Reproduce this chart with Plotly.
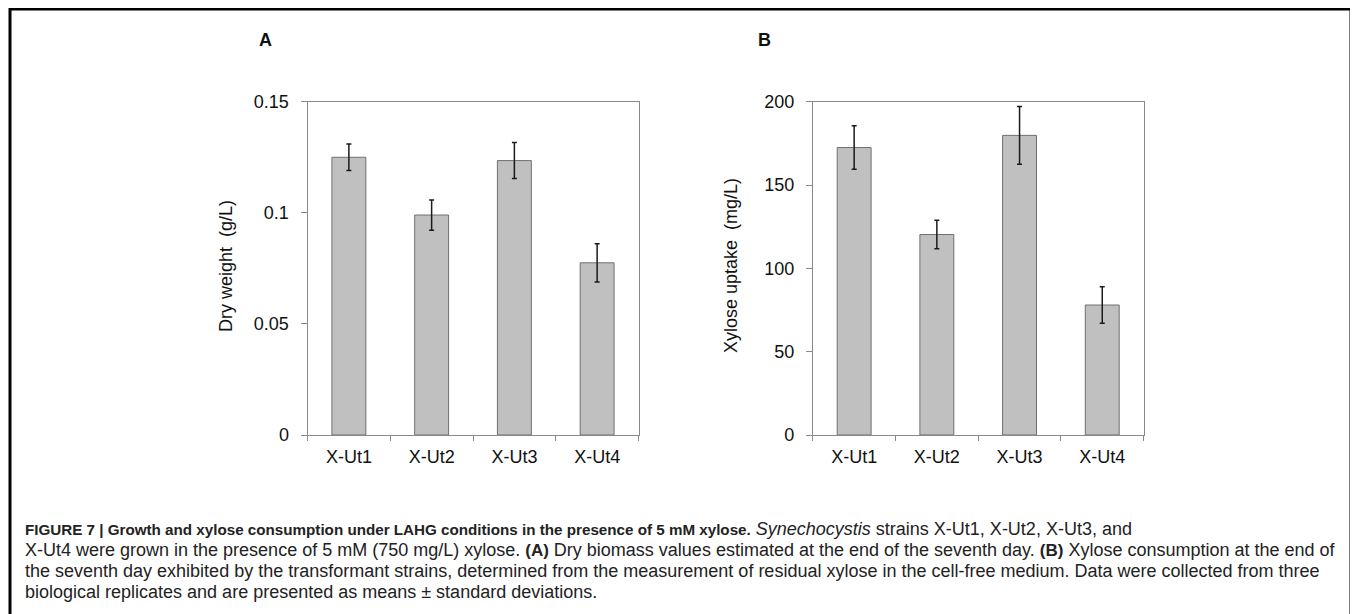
import plotly.graph_objects as go

# ---- data ----
strains = ["X-Ut1", "X-Ut2", "X-Ut3", "X-Ut4"]
dry_weight = [0.125, 0.099, 0.1235, 0.0775]
dry_weight_sd = [0.006, 0.0068, 0.0081, 0.0086]
xylose_uptake = [172.5, 120.3, 179.8, 78.0]
xylose_uptake_sd = [13.1, 8.6, 17.3, 10.9]
yticks_a = [0, 0.05, 0.1, 0.15]
yticks_a_text = ["0", "0.05", "0.1", "0.15"]
yticks_b = [0, 50, 100, 150, 200]

# page body has an 8px margin: screen = figure + 8
OFF = 8
W, H = 1350, 606
FONT = "Liberation Sans, Arial, sans-serif"
BAR_FILL = "#c0c0c0"
AX = "#8a8a8a"


def sx(v):
    return (v - OFF) / W


def sy(v):
    return 1 - (v - OFF) / H


fig = go.Figure()
fig.add_trace(go.Bar(
    x=strains, y=dry_weight, xaxis="x", yaxis="y",
    marker=dict(color=BAR_FILL, line=dict(color="#707070", width=1)),
    error_y=dict(type="data", array=dry_weight_sd, visible=True,
                 color="#1a1a1a", thickness=1.5, width=2.5),
    showlegend=False))
fig.add_trace(go.Bar(
    x=strains, y=xylose_uptake, xaxis="x2", yaxis="y2",
    marker=dict(color=BAR_FILL, line=dict(color="#707070", width=1)),
    error_y=dict(type="data", array=xylose_uptake_sd, visible=True,
                 color="#1a1a1a", thickness=1.5, width=2.5),
    showlegend=False))

ydom = [sy(435), sy(101.7)]
common_x = dict(showline=True, linecolor=AX, linewidth=1, mirror=True,
                ticks="outside", tickson="boundaries", ticklen=5,
                tickcolor=AX, showgrid=False, zeroline=False,
                tickfont=dict(family=FONT, size=18, color="#111"),
                ticklabelstandoff=5)
common_y = dict(showline=True, linecolor=AX, linewidth=1, mirror=True,
                ticks="outside", ticklen=6, tickcolor=AX, showgrid=False,
                zeroline=False, tickfont=dict(family=FONT, size=18, color="#111"),
                ticklabelstandoff=8)

fig.update_layout(
    width=W, height=H,
    margin=dict(l=0, r=0, t=0, b=0, autoexpand=False),
    paper_bgcolor="white", plot_bgcolor="white",
    bargap=0.59,
    xaxis=dict(domain=[sx(307.5), sx(638.5)], anchor="y", **common_x),
    yaxis=dict(domain=ydom, anchor="x", range=[0, 0.15],
               tickvals=yticks_a, ticktext=yticks_a_text, **common_y),
    xaxis2=dict(domain=[sx(812.8), sx(1143.6)], anchor="y2", **common_x),
    yaxis2=dict(domain=ydom, anchor="x2", range=[0, 200],
                tickvals=yticks_b, **common_y),
)

ann = []
ann.append(dict(text="Dry weight  (g/L)", x=sx(226), y=sy(266), xref="paper", yref="paper",
                textangle=-90, showarrow=False, font=dict(family=FONT, size=18, color="#111"),
                xanchor="center", yanchor="middle"))
ann.append(dict(text="Xylose uptake  (mg/L)", x=sx(731), y=sy(266), xref="paper", yref="paper",
                textangle=-90, showarrow=False, font=dict(family=FONT, size=18, color="#111"),
                xanchor="center", yanchor="middle"))
ann.append(dict(text="<b>A</b>", x=sx(265), y=sy(40), xref="paper", yref="paper",
                showarrow=False, font=dict(family=FONT, size=18, color="#111"),
                xanchor="center", yanchor="middle"))
ann.append(dict(text="<b>B</b>", x=sx(764), y=sy(40), xref="paper", yref="paper",
                showarrow=False, font=dict(family=FONT, size=18, color="#111"),
                xanchor="center", yanchor="middle"))

CAP_FONT = "Liberation Sans, Arial, sans-serif"


def bold(s, size=16):
    return f"<b><span style='font-size:{size}px'>{s}</span></b>"


cap_lines = [
    bold("FIGURE 7 | Growth and xylose consumption under LAHG conditions in the presence of 5 mM xylose.", 15.2)
    + " <i>Synechocystis</i> strains X-Ut1, X-Ut2, X-Ut3, and",
    "X-Ut4 were grown in the presence of 5 mM (750 mg/L) xylose. " + bold("(A)", 17)
    + " Dry biomass values estimated at the end of the seventh day. " + bold("(B)", 17)
    + " Xylose consumption at the end of",
    "the seventh day exhibited by the transformant strains, determined from the measurement of residual xylose "
    "in the cell-free medium. Data were collected from three",
    "biological replicates and are presented as means \u00b1 standard deviations.",
]
cap_y = [529, 550, 571, 592]
for t, yy in zip(cap_lines, cap_y):
    ann.append(dict(text=t, x=sx(23), y=sy(yy), xref="paper", yref="paper",
                    showarrow=False, font=dict(family=CAP_FONT, size=18, color="#222"),
                    xanchor="left", yanchor="middle", align="left"))
fig.update_layout(annotations=ann)

fig.add_shape(type="path", xref="paper", yref="paper",
              path=f"M {sx(10)},{sy(640)} L {sx(10)},{sy(9)} L {sx(1351)},{sy(9)} L {sx(1351)},{sy(640)}",
              line=dict(color="black", width=3))

fig.write_html("out.html")
